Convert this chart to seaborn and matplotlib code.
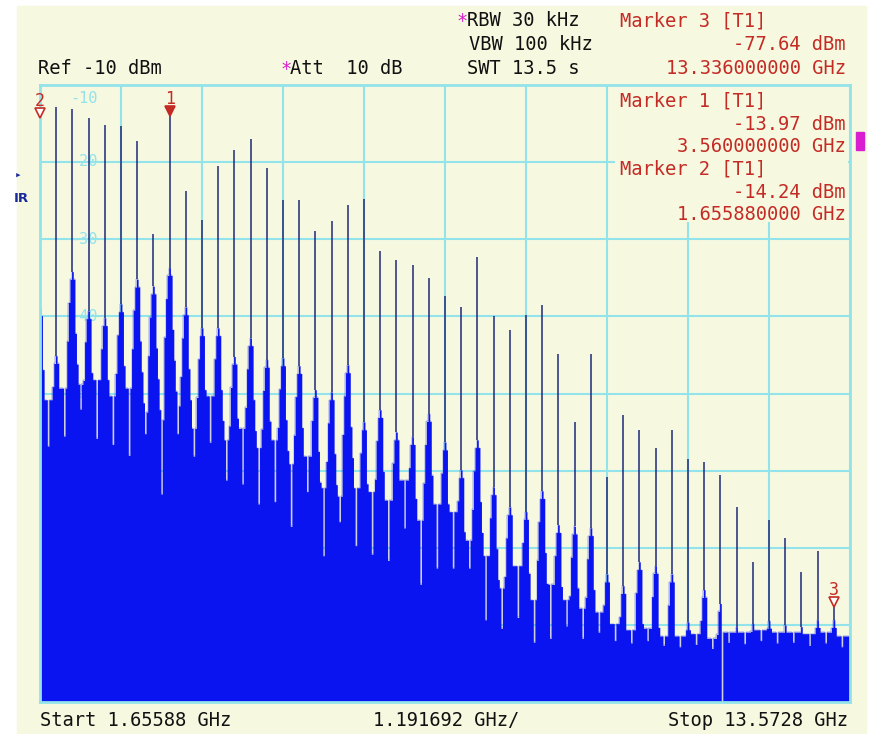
import numpy as np
import pandas as pd
import matplotlib
matplotlib.use("Agg")
import matplotlib.pyplot as plt
import matplotlib.transforms as mtransforms
from matplotlib.patches import Rectangle
import seaborn as sns

# analyzer settings
f_start = 1.65588          # GHz
f_stop = 13.5728           # GHz
f_div = 1.191692           # GHz per division
n_points = 501
pts_per_line = 10          # the comb lines fall every 10 trace points
ref_level = -10
bottom_level = -90

# comb lines, left to right (dBm)
peak_db = [-14.3, -12.9, -13.1, -14.3, -15.2, -15.3, -17.3, -29.3, -14.0, -23.7,
           -27.5, -20.5, -18.4, -17.0, -20.8, -24.9, -24.9, -29.0, -27.7, -25.6,
           -24.8, -31.5, -32.7, -33.4, -35.0, -37.4, -38.8, -32.3, -40.0, -41.7,
           -39.8, -38.5, -44.9, -53.7, -44.9, -60.8, -52.8, -54.7, -57.1, -54.7,
           -58.5, -58.9, -60.5, -64.7, -71.8, -66.4, -68.7, -73.1, -70.4, -77.64]
# level of the broad skirt under each line
skirt_db = [-38.9, -45.1, -34.2, -39.3, -40.2, -38.4, -35.2, -36.1, -33.7, -38.8,
            -41.5, -41.5, -45.2, -42.8, -45.6, -45.4, -46.4, -49.5, -49.8, -46.3,
            -53.7, -52.1, -55.0, -55.6, -52.6, -56.3, -59.9, -56.0, -62.1, -64.7,
            -65.3, -62.6, -67.0, -67.2, -67.4, -73.4, -74.9, -71.8, -72.3, -73.4,
            -79.6, -75.4, -77.2, -80.2, -79.8, -79.4, -80.0, -80.2, -79.3, -79.3]
# floor between a line and the next one
valley_db = [-50.8, -49.3, -48.8, -48.2, -50.3, -49.3, -52.4, -53.4, -51.6, -54.5,
             -50.3, -56.0, -54.5, -57.0, -56.0, -59.1, -58.1, -62.2, -63.3, -62.2,
             -62.7, -63.8, -61.2, -66.4, -64.3, -65.3, -69.0, -71.0, -75.2, -72.3,
             -76.7, -74.7, -76.7, -77.8, -78.3, -79.8, -80.6, -80.4, -81.4, -81.4,
             -81.1, -81.7, -80.9, -80.9, -80.6, -80.9, -80.9, -81.1, -80.9, -81.4]
# deepest notch between a line and the next one
dip_db = [-56.8, -55.5, -52.0, -55.8, -56.6, -58.0, -55.2, -63.0, -55.2, -58.1,
          -56.3, -61.2, -61.7, -64.3, -64.0, -67.2, -62.7, -71.0, -66.6, -69.7,
          -70.8, -71.6, -67.4, -74.7, -72.6, -72.6, -72.6, -79.3, -80.4, -79.0,
          -82.2, -81.7, -80.1, -81.7, -80.9, -82.0, -82.3, -82.0, -82.6, -82.8,
          -82.5, -83.0, -82.2, -82.4, -82.0, -82.3, -82.2, -82.6, -82.3, -82.8]
dropout_line = 43          # trace drops off screen right after this line

# markers: name, comb line number, readout
marker_names = ["1", "2", "3"]
marker_line = [9, 1, 50]
marker_level = [-13.97, -14.24, -77.64]
marker_active = [True, False, False]

# shape of one comb tooth (dB below skirt), point offsets 0..9
right_drop = [0, 1, 8, 12, 16, 99, 99, 99, 99, 99]
left_drop = [99, 99, 99, 99, 99, 99, 99, 9, 4, 1]

bg = "#f6f8e0"
grid_c = "#93e3ea"
blue = "#0a14f0"
navy = "#1f2a78"
red = "#c42b25"
magenta = "#d81ed0"

# build the 501 point trace
step = (f_stop - f_start) / (n_points - 1)
freqs = f_start + step * np.arange(n_points)
level = np.full(n_points, valley_db[-1])
n_lines = len(peak_db)
for k in range(n_lines):
    s_next = skirt_db[k + 1] if k + 1 < n_lines else valley_db[k]
    for j in range(pts_per_line):
        i = k * pts_per_line + j
        v = max(valley_db[k], skirt_db[k] - right_drop[j], s_next - left_drop[j])
        if j == 5:
            v = min(v, dip_db[k])
        level[i] = v
level[(dropout_line - 1) * pts_per_line + 1] = bottom_level - 6
trace = pd.DataFrame({"freq": freqs, "level": level})

line_idx = np.arange(n_lines) * pts_per_line
line_f = freqs[line_idx]

sns.set_style("white")
plt.rcParams["font.family"] = ["DejaVu Sans Mono", "DejaVu Sans"]

W, H = 870, 734
fig = plt.figure(figsize=(W / 100, H / 100), dpi=100, facecolor="white")
fig.patches.append(Rectangle((17 / W, 0), (866 - 17) / W, 1 - 6 / H,
                             transform=fig.transFigure, color=bg, zorder=-5))
ax = fig.add_axes([40 / W, 1 - 702.4 / H, 810 / W, 617.6 / H])
ax.set_facecolor(bg)

ax.fill_between(trace["freq"], trace["level"], bottom_level - 10, step="mid",
                color=blue, lw=0, zorder=2)
sns.lineplot(data=trace, x="freq", y="level", drawstyle="steps-mid", color=blue,
             lw=0.25, ax=ax, zorder=2, estimator=None)
ax.vlines(line_f, np.array(skirt_db), np.array(peak_db), color=navy, lw=1.1, zorder=4)

ax.set_xlim(f_start, f_stop)
ax.set_ylim(bottom_level, ref_level)
ax.set_xticks(f_start + f_div * np.arange(11))
ax.set_yticks(np.arange(bottom_level, ref_level + 1, 10))
ax.set_xticklabels([])
ax.set_yticklabels([])
ax.tick_params(length=0)
ax.set_xlabel("")
ax.set_ylabel("")
ax.set_axisbelow(True)
ax.grid(True, color=grid_c, lw=1.5)
for sp in ax.spines.values():
    sp.set_color(grid_c)
    sp.set_linewidth(2)
    sp.set_zorder(6)

# level labels inside the grid
for lv in range(-10, -90, -10):
    ypos = lv - 1.8 if lv == -10 else lv
    ax.text(2.3, ypos, f"{lv}", color=grid_c, fontsize=11, ha="center", va="center", zorder=1)

# marker readout area covers the grid
ax.add_patch(Rectangle((10.115, -27.8), 13.545 - 10.115, 17.6, color=bg, lw=0, zorder=3))

# markers
for name, li, lv, act in zip(marker_names, marker_line, marker_level, marker_active):
    fx = line_f[li - 1]
    tr = ax.transData + mtransforms.ScaledTranslation(0, 0.045, fig.dpi_scale_trans)
    ax.plot([fx], [lv], marker="v", ms=6.5, mec=red, mew=1.2,
            mfc=red if act else "white", transform=tr, zorder=7, clip_on=False)
    ax.annotate(name, (fx, lv), xytext=(0, 12), textcoords="offset points",
                ha="center", va="center", color=red, fontsize=12, zorder=7)

fs = 13.5
def ftxt(x, y, s, **kw):
    fig.text(x / W, 1 - y / H, s, fontsize=fs, va="center", **kw)

# header
ftxt(38, 69, "Ref -10 dBm", color="#111111")
ftxt(280, 69, "*", color=magenta)
ftxt(290, 69, "Att  10 dB", color="#111111")
ftxt(456, 21, "*", color=magenta)
ftxt(467, 21, "RBW 30 kHz", color="#111111")
ftxt(469, 45, "VBW 100 kHz", color="#111111")
ftxt(467, 69, "SWT 13.5 s", color="#111111")
ftxt(620, 21, "Marker 3 [T1]", color=red)
ftxt(846, 45, "-77.64 dBm", color=red, ha="right")
ftxt(846, 69, "13.336000000 GHz", color=red, ha="right")

# marker readouts inside the screen
ftxt(620, 101, "Marker 1 [T1]", color=red)
ftxt(846, 124, "-13.97 dBm", color=red, ha="right")
ftxt(846, 147, "3.560000000 GHz", color=red, ha="right")
ftxt(620, 169, "Marker 2 [T1]", color=red)
ftxt(846, 192, "-14.24 dBm", color=red, ha="right")
ftxt(846, 215, "1.655880000 GHz", color=red, ha="right")

# footer
ftxt(40, 720, "Start 1.65588 GHz", color="#111111")
ftxt(373, 720, "1.191692 GHz/", color="#111111")
ftxt(848, 720, "Stop 13.5728 GHz", color="#111111", ha="right")

# left side status glyphs and right edge flag
fig.text(15 / W, 1 - 176 / H, "\u25b8", color="#1a2a9a", fontsize=8, va="center")
fig.text(14 / W, 1 - 199 / H, "IR", color="#1a2a9a", fontsize=9.5, fontweight="bold",
         va="center", family="DejaVu Sans")
fig.patches.append(Rectangle((856 / W, 1 - 150 / H), 8 / W, 18 / H,
                             transform=fig.transFigure, color=magenta, zorder=5))

fig.savefig("out.png", dpi=100, facecolor="white")
